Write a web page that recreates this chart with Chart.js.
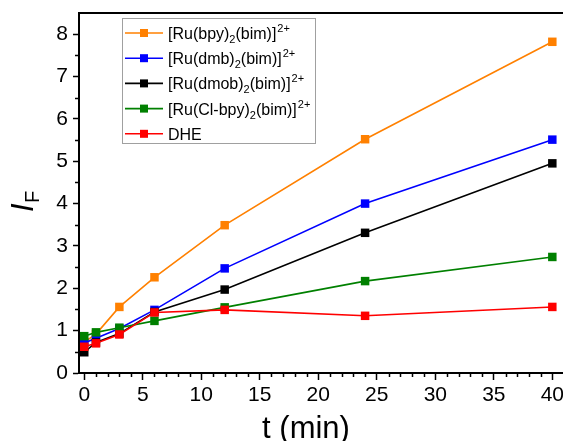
<!DOCTYPE html>
<html>
<head>
<meta charset="utf-8">
<title>I_F vs t</title>
<script src="https://cdn.jsdelivr.net/npm/chart.js@4.4.1/dist/chart.umd.min.js"></script>
<style>
  html, body { margin: 0; padding: 0; background: #fff; }
  canvas { display: block; }
</style>
</head>
<body>
<canvas id="fChart" width="563" height="441"></canvas>
<script>
'use strict';

const FONT = '"Liberation Sans", Arial, sans-serif';

// sampling times (min)
const times = [0, 1, 3, 6, 12, 24, 40];

// fluorescence intensity I_F for each probe
const bpyVals   = [0.73, 0.92, 1.56, 2.26, 3.49, 5.52, 7.82];
const dmbVals   = [0.71, 0.82, 1.05, 1.49, 2.47, 4.00, 5.51];
const dmobVals  = [0.49, 0.72, 0.93, 1.44, 1.97, 3.31, 4.95];
const clbpyVals = [0.87, 0.96, 1.07, 1.23, 1.55, 2.17, 2.74];
const dheVals   = [0.62, 0.70, 0.91, 1.43, 1.49, 1.35, 1.56];

const xTicks = [0, 5, 10, 15, 20, 25, 30, 35, 40];
const yTicks = [0, 1, 2, 3, 4, 5, 6, 7, 8];

// legend names split into [text, subscript, text, superscript]
const seriesNames = [
    ['[Ru(bpy)', '2', '(bim)]', '2+'],
    ['[Ru(dmb)', '2', '(bim)]', '2+'],
    ['[Ru(dmob)', '2', '(bim)]', '2+'],
    ['[Ru(Cl-bpy)', '2', '(bim)]', '2+'],
    ['DHE']
];
const seriesValues = [bpyVals, dmbVals, dmobVals, clbpyVals, dheVals];
const seriesColors = ['#ff8000', '#0000ff', '#000000', '#008000', '#ff0000'];

// draws text with a subscript / superscript part, returns end x
function drawRich(ctx, parts, x, y) {
    parts.forEach((p, i) => {
        if (i % 2 === 0) {
            ctx.font = '16px ' + FONT;
            ctx.fillText(p, x, y);
        } else if (i === 1) {
            ctx.font = '11px ' + FONT;
            ctx.fillText(p, x, y + 4);
        } else {
            ctx.font = '11px ' + FONT;
            ctx.fillText(p, x + 1, y - 7);
            x += 1;
        }
        x += ctx.measureText(p).width;
    });
    return x;
}

const framePlugin = {
    id: 'frame',
    afterDraw(chart) {
        const { ctx, chartArea: area, scales: { x, y } } = chart;
        ctx.save();
        ctx.strokeStyle = '#000';

        // minor ticks
        ctx.lineWidth = 1.5;
        ctx.beginPath();
        for (let v = 0; v <= 40; v++) {
            if (v % 5 === 0) continue;
            const px = Math.round(x.getPixelForValue(v)) + 0.5;
            ctx.moveTo(px, area.bottom);
            ctx.lineTo(px, area.bottom + 4);
        }
        for (let v = 0.5; v < 8.5; v += 1) {
            const py = Math.round(y.getPixelForValue(v)) + 0.5;
            ctx.moveTo(area.left, py);
            ctx.lineTo(area.left - 4, py);
        }
        ctx.stroke();

        // top and bottom edges of the frame run off the right side
        ctx.lineWidth = 2;
        ctx.beginPath();
        ctx.moveTo(area.left - 1, area.top);
        ctx.lineTo(chart.width, area.top);
        ctx.moveTo(area.right - 1, area.bottom);
        ctx.lineTo(chart.width, area.bottom);
        ctx.stroke();

        // legend
        const lx = 122, ly = 18, lw = 193, lh = 125;
        ctx.lineWidth = 1;
        ctx.strokeStyle = '#a0a0a0';
        ctx.fillStyle = '#fff';
        ctx.fillRect(lx, ly, lw, lh);
        ctx.strokeRect(lx + 0.5, ly + 0.5, lw, lh);
        seriesNames.forEach((name, i) => {
            const cy = 33 + i * 25.2;
            ctx.strokeStyle = seriesColors[i];
            ctx.fillStyle = seriesColors[i];
            ctx.lineWidth = 1.6;
            ctx.beginPath();
            ctx.moveTo(125, cy);
            ctx.lineTo(163, cy);
            ctx.stroke();
            ctx.fillRect(140, cy - 4, 8, 8);
            ctx.fillStyle = '#000';
            ctx.textBaseline = 'alphabetic';
            ctx.textAlign = 'left';
            drawRich(ctx, name, 168, cy + 6);
        });

        // axis titles
        ctx.fillStyle = '#000';
        ctx.textAlign = 'center';
        ctx.font = '31px ' + FONT;
        ctx.fillText('t (min)', 306, 438);

        ctx.save();
        ctx.translate(33, 212);
        ctx.rotate(-Math.PI / 2);
        ctx.textAlign = 'left';
        ctx.font = 'italic 31px ' + FONT;
        ctx.fillText('I', 0, 0);
        const iw = ctx.measureText('I').width;
        ctx.font = '20px ' + FONT;
        ctx.fillText('F', iw + 0.5, 6);
        ctx.restore();

        ctx.restore();
    }
};

const axisStyle = {
    border: { color: '#000', width: 2 },
    grid: { drawOnChartArea: false, drawTicks: true, tickLength: 6, color: '#000', tickWidth: 1.5 },
    ticks: { color: '#000', font: { family: FONT, size: 21 }, maxRotation: 0, autoSkip: false }
};

new Chart(document.getElementById('fChart'), {
    type: 'line',
    data: {
        datasets: seriesValues.map((vals, i) => ({
            label: seriesNames[i].join(''),
            data: times.map((t, j) => ({ x: t, y: vals[j] })),
            borderColor: seriesColors[i],
            backgroundColor: seriesColors[i],
            borderWidth: 1.6,
            pointStyle: 'rect',
            pointRadius: 6,
            pointBorderWidth: 0,
            tension: 0,
            // DHE drawn on top, bpy at the bottom
            order: seriesValues.length - i
        }))
    },
    options: {
        responsive: false,
        animation: false,
        layout: { padding: { top: 13, right: 0, left: 0, bottom: 0 } },
        plugins: {
            legend: { display: false },
            tooltip: { enabled: false }
        },
        scales: {
            x: {
                type: 'linear',
                min: -0.45,
                max: 40.4,
                border: axisStyle.border,
                grid: Object.assign({}, axisStyle.grid, { tickLength: 7 }),
                ticks: Object.assign({}, axisStyle.ticks, { padding: 3 }),
                afterBuildTicks: s => { s.ticks = xTicks.map(v => ({ value: v })); },
                afterFit: s => { s.height = 68; s.paddingLeft = 0; s.paddingRight = 0; }
            },
            y: {
                type: 'linear',
                min: 0,
                max: 8.5,
                border: axisStyle.border,
                grid: axisStyle.grid,
                ticks: Object.assign({}, axisStyle.ticks, { padding: 5 }),
                afterBuildTicks: s => { s.ticks = yTicks.map(v => ({ value: v })); },
                afterFit: s => { s.width = 79; s.paddingTop = 0; s.paddingBottom = 0; }
            }
        }
    },
    plugins: [framePlugin]
});
</script>
</body>
</html>
